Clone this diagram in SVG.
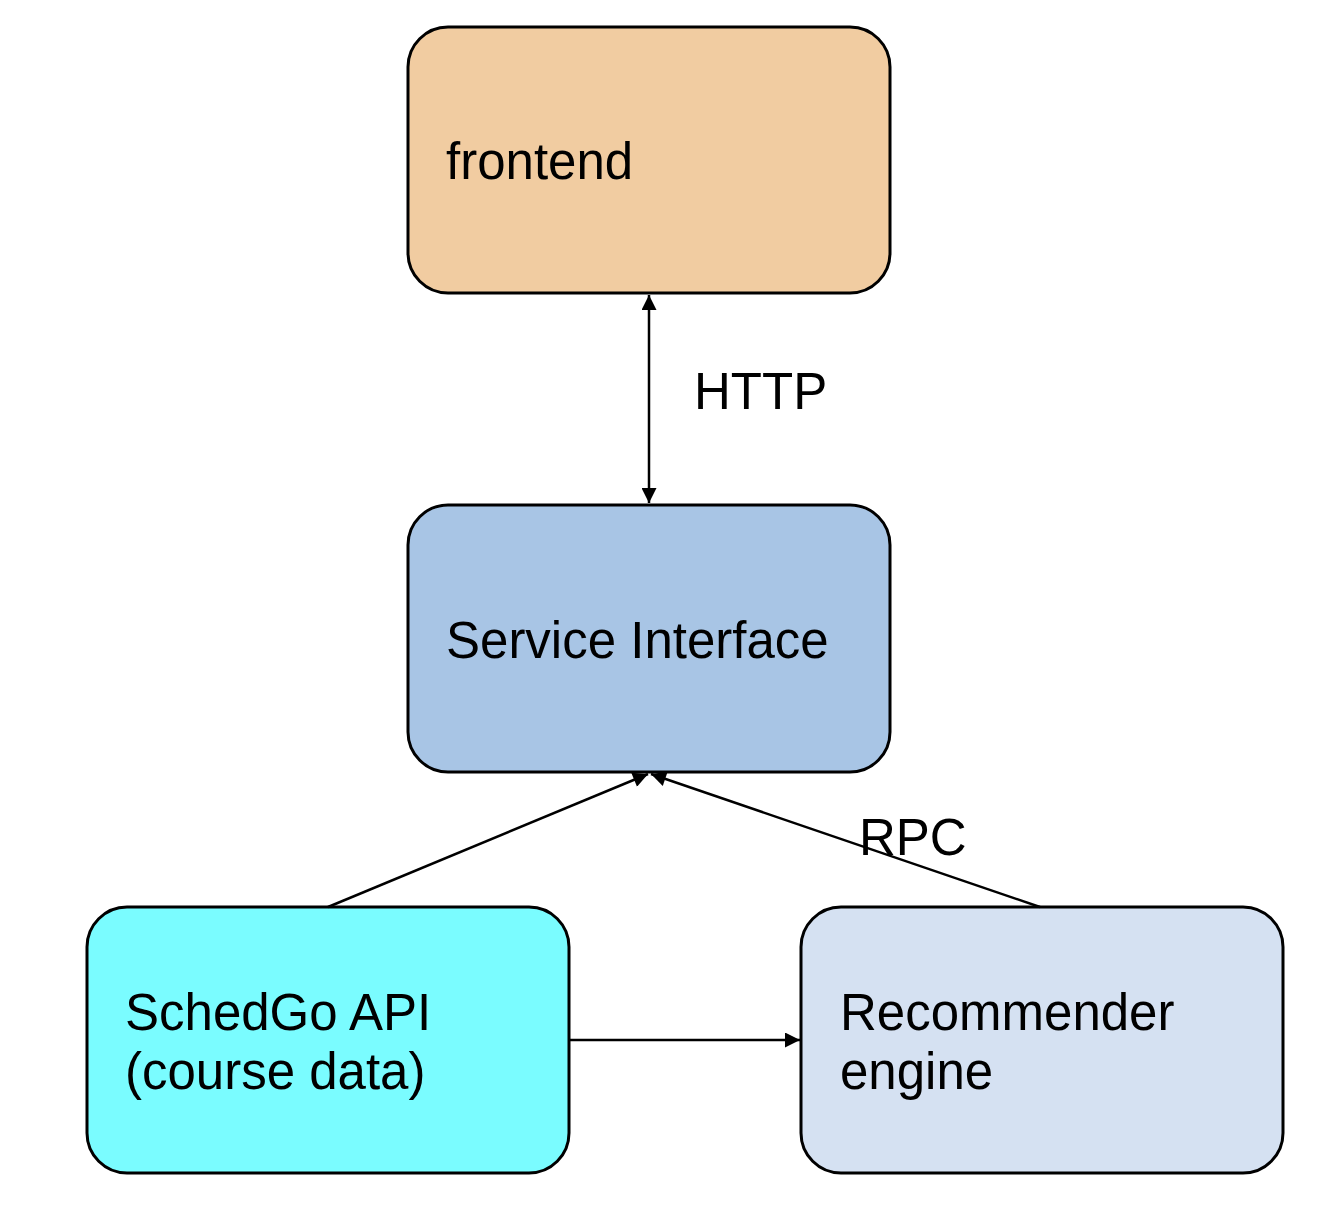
<svg xmlns="http://www.w3.org/2000/svg" width="1344" height="1208" viewBox="0 0 1344 1208">
<defs>
<style>
.box{stroke:#000;stroke-width:3}
.t{font-family:"Liberation Sans",Arial,sans-serif;font-size:51px;fill:#000}
.c{stroke:#000;stroke-width:2.5;fill:none}
</style>
<marker id="ah" viewBox="0 0 10 10" refX="10" refY="5" markerWidth="6.5" markerHeight="6" orient="auto-start-reverse" markerUnits="strokeWidth">
<path d="M0,0 L10,5 L0,10 z" fill="#000"/>
</marker>
</defs>
<rect width="1344" height="1208" fill="#fff"/>
<g id="frontend">
<rect class="box" x="408" y="27" width="482" height="266" rx="40" fill="#f1cca1"/>
<text class="t" x="446" y="179">frontend</text>
</g>
<g id="service-interface">
<rect class="box" x="408" y="505" width="482" height="267" rx="40" fill="#a8c5e5"/>
<text class="t" x="446" y="658">Service Interface</text>
</g>
<g id="schedgo-api">
<rect class="box" x="87" y="907" width="482" height="266" rx="40" fill="#7afcff"/>
<text class="t" x="125" y="1030">SchedGo API</text>
<text class="t" x="125" y="1089">(course data)</text>
</g>
<g id="recommender">
<rect class="box" x="801" y="907" width="482" height="266" rx="40" fill="#d5e1f2"/>
<text class="t" x="840" y="1030">Recommender</text>
<text class="t" x="840" y="1089">engine</text>
</g>
<g id="connectors">
<line class="c" x1="649" y1="295" x2="649" y2="503" marker-start="url(#ah)" marker-end="url(#ah)"/>
<text class="t" x="694" y="409">HTTP</text>
<line class="c" x1="328" y1="907" x2="648" y2="774" marker-end="url(#ah)"/>
<line class="c" x1="1040" y1="907" x2="651" y2="774" marker-end="url(#ah)"/>
<text class="t" x="859" y="855">RPC</text>
<line class="c" x1="569" y1="1040" x2="800" y2="1040" marker-end="url(#ah)"/>
</g>
</svg>
